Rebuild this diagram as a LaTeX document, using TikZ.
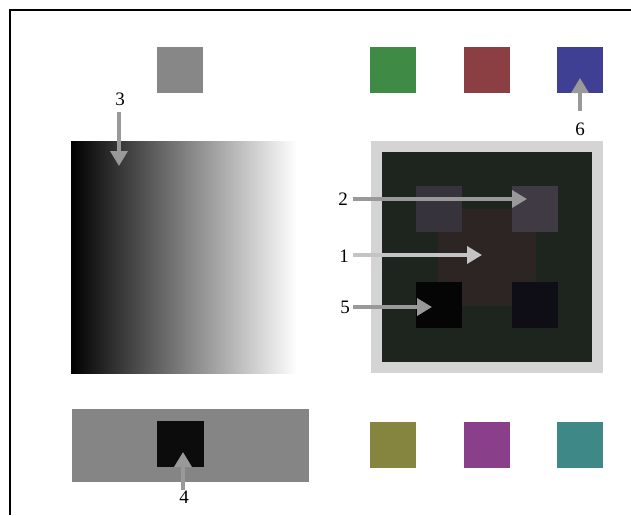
\documentclass[tikz,border=0pt]{standalone}
\usepackage{fontspec}
\setmainfont{Liberation Serif}
\usetikzlibrary{arrows.meta}
\definecolor{sqgray}{HTML}{878787}
\definecolor{sqgreen}{HTML}{3F8A45}
\definecolor{sqred}{HTML}{8B3F42}
\definecolor{sqblue}{HTML}{3F3F94}
\definecolor{sqolive}{HTML}{868540}
\definecolor{sqpurple}{HTML}{8A3F8A}
\definecolor{sqteal}{HTML}{3F8888}
\definecolor{bargray}{HTML}{858585}
\definecolor{barblack}{HTML}{0C0C0C}
\definecolor{panelgray}{HTML}{D4D4D4}
\definecolor{paneldark}{HTML}{1E241E}
\definecolor{tlsq}{HTML}{37333D}
\definecolor{trsq}{HTML}{403A45}
\definecolor{ctrsq}{HTML}{2D2523}
\definecolor{blsq}{HTML}{050505}
\definecolor{brsq}{HTML}{0F0D16}
\definecolor{arrowgray}{HTML}{999999}
\definecolor{arrowlight}{HTML}{C4C4C4}
\begin{document}
\begin{tikzpicture}[x=1pt,y=-1pt,
  box/.style={inner sep=0pt, outer sep=0pt, draw=none},
  sq/.style={box, minimum width=46pt, minimum height=46pt},
  lbl/.style={font=\fontsize{19}{20}\selectfont, inner sep=0pt},
  pointer/.style={line width=3.5pt, draw=arrowgray, -{Triangle[length=15pt,width=17pt]}}]
\useasboundingbox (0,0) rectangle (631,515);
\fill[white] (0,0) rectangle (631,515);
\draw[line width=2pt] (10,515) -- (10,9.5) -- (631,9.5);
% top row
\node[sq, fill=sqgray] (gray) at (180,70) {};
\node[sq, fill=sqgreen] (green) at (393,70) {};
\node[sq, fill=sqred] (red) at (486.5,70) {};
\node[sq, fill=sqblue] (blue) at (580,70) {};
% gradient
\node[box, minimum width=226pt, minimum height=232pt, left color=black, right color=white] (grad) at (184,257) {};
% panel
\node[box, minimum width=232pt, minimum height=232pt, fill=panelgray] (panel) at (487,257) {};
\node[box, minimum width=210pt, minimum height=210pt, fill=paneldark] (inner) at (487,257) {};
\node[box, minimum width=98pt, minimum height=97pt, fill=ctrsq] (ctr) at (487,257.5) {};
\node[sq, fill=tlsq] (tl) at (439,209) {};
\node[sq, fill=trsq] (tr) at (535,209) {};
\node[sq, fill=blsq] (bl) at (439,305) {};
\node[sq, fill=brsq] (br) at (535,305) {};
% bottom row
\node[box, minimum width=237pt, minimum height=73pt, fill=bargray] (bar) at (190.5,445.5) {};
\node[box, minimum width=47pt, minimum height=46pt, fill=barblack] (barsq) at (180.5,444) {};
\node[sq, fill=sqolive] (olive) at (393,444.5) {};
\node[sq, fill=sqpurple] (purple) at (487,444.5) {};
\node[sq, fill=sqteal] (teal) at (579.5,444.5) {};
% labels
\node[lbl] (l3) at (120,99) {3};
\node[lbl] (l6) at (580,129.5) {6};
\node[lbl] (l4) at (184,497) {4};
\node[lbl] (l2) at (343,199) {2};
\node[lbl] (l1) at (344,256) {1};
\node[lbl] (l5) at (345,307) {5};
% arrow ends
\coordinate (t3) at (119,112); \coordinate (h3) at (119,166);
\coordinate (t6) at (580,111); \coordinate (h6) at (580,78);
\coordinate (t4) at (183,490); \coordinate (h4) at (183,452);
\coordinate (t2) at (353,199); \coordinate (h2) at (527,199);
\coordinate (t1) at (353,255); \coordinate (h1) at (482,255);
\coordinate (t5) at (353,307); \coordinate (h5) at (432,307);
\draw[pointer] (t3) -- (h3);
\draw[pointer] (t6) -- (h6);
\draw[pointer] (t4) -- (h4);
\draw[pointer] (t2) -- (h2);
\draw[pointer, draw=arrowlight] (t1) -- (h1);
\draw[pointer] (t5) -- (h5);
\end{tikzpicture}
\end{document}
